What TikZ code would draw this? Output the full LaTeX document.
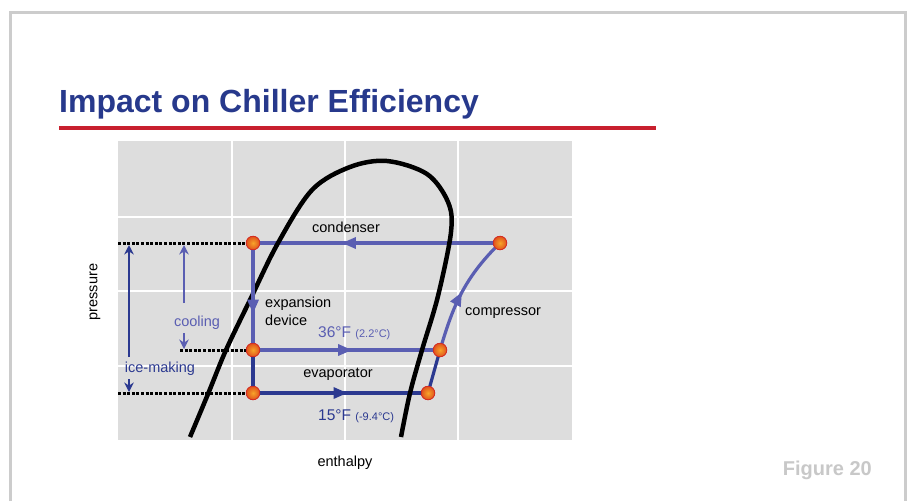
\documentclass[tikz,border=0pt]{standalone}
\usepackage{fontspec}
\setmainfont{Liberation Sans}
\usetikzlibrary{arrows.meta,decorations.markings}
\definecolor{lblue}{HTML}{5A5EB2}
\definecolor{dblue}{HTML}{2B3990}
\definecolor{tblue}{HTML}{27398C}
\definecolor{tred}{HTML}{C8202E}
\definecolor{panelgray}{HTML}{DDDDDD}
\definecolor{frmgray}{HTML}{CCCCCC}
\definecolor{figgray}{HTML}{C8C8C8}
\definecolor{dotin}{HTML}{F7A52A}
\definecolor{dotout}{HTML}{E0521C}
\definecolor{dotrim}{HTML}{D42A22}
\tikzset{
  ball/.style={circle, minimum size=13.5pt, inner sep=0pt, draw=dotrim, line width=0.7pt,
    inner color=dotin, outer color=dotout},
  lbl/.style={inner sep=0pt, font=\fontsize{14.5}{17}\selectfont},
  cyc/.style={line width=3.2pt},
  midarrow/.style={postaction={decorate,decoration={markings,
     mark=at position #1 with {\arrow{Triangle[length=14pt,width=11pt]}}}}},
  dotline/.style={black, line width=3pt, dash pattern=on 3pt off 1.6pt},
  sidearrow/.style={line width=2.3pt, -{Stealth[length=9.5pt,width=9.5pt]}},
}
\begin{document}
\begin{tikzpicture}[x=1pt,y=-1pt]
\useasboundingbox[fill=white] (0,0) rectangle (909,501);
% frame
\draw[frmgray, line width=3pt] (10,501) -- (10,12) -- (905,12) -- (905,501);
% title
\node[anchor=base west, inner sep=0pt, text=tblue, font=\fontsize{32}{38}\selectfont\bfseries] (title) at (59,112) {Impact on Chiller Efficiency};
\draw[tred, line width=3.5pt] (59,128) -- (656,128);
% panel and grid
\fill[panelgray] (118,141) rectangle (572,440);
\foreach \x in {232,345,458} \draw[white, line width=1.2pt] (\x,141) -- (\x,440);
\foreach \y in {217,291,366} \draw[white, line width=1.2pt] (118,\y) -- (572,\y);
% state points
\node[ball] (A) at (253,243) {};
\node[ball] (B) at (500,243) {};
\node[ball] (C) at (253,350) {};
\node[ball] (D) at (440,350) {};
\node[ball] (E) at (253,393) {};
\node[ball] (F) at (428,393) {};
% dotted pressure levels
\coordinate (Ad) at (118,243);
\coordinate (Cd) at (180,350);
\coordinate (Ed) at (118,393);
\draw[dotline] (Ad) -- (A.center);
\draw[dotline] (Cd) -- (C.center);
\draw[dotline] (Ed) -- (E.center);
% cycle lines
\draw[cyc, lblue, midarrow=0.64] (B.center) -- (A.center);
\draw[cyc, lblue, midarrow=0.53] (C.center) -- (D.center);
\draw[cyc, lblue, midarrow=0.5] (D.center) .. controls (452,310) and (462,280) .. (B.center);
\draw[cyc, dblue] (C.center) -- (E.center);
\draw[cyc, dblue, midarrow=0.54] (E.center) -- (F.center);
\draw[cyc, dblue] (F.center) -- (D.center);
% saturation dome
\draw[black, line width=4.5pt] plot[smooth, tension=0.55] coordinates {
  (190,437) (208,394) (226,350) (250,300) (278,243) (312,190) (350,167) (387,161)
  (427,174) (448,202) (451,232) (438,296) (422,350) (410,393) (401,437)};
% expansion line drawn over the dome
\draw[cyc, lblue, midarrow=0.66] (A.center) -- (C.center);
% redraw balls on top
\foreach \n in {A,B,C,D,E,F} \node[ball] at (\n) {};
% side arrows
\coordinate (ice1) at (129,357);
\coordinate (ice2) at (129,245);
\coordinate (ice3) at (129,379);
\coordinate (ice4) at (129,392);
\coordinate (cool1) at (184,303);
\coordinate (cool2) at (184,245);
\coordinate (cool3) at (184,333);
\coordinate (cool4) at (184,349);
\draw[sidearrow, dblue] (ice1) -- (ice2);
\draw[sidearrow, dblue] (ice3) -- (ice4);
\draw[sidearrow, lblue] (cool1) -- (cool2);
\draw[sidearrow, lblue] (cool3) -- (cool4);
\node[lbl, text=dblue, anchor=base] (icelbl) at (160,372) {ice-making};
\node[lbl, text=lblue, anchor=base] (coollbl) at (197,326) {cooling};
% labels
\node[lbl, anchor=base] (cond) at (346,232) {condenser};
\node[lbl, anchor=base west] (exp1) at (265,307) {expansion};
\node[lbl, anchor=base west] (exp2) at (265,325) {device};
\node[lbl, anchor=base west, text=lblue] (t36) at (318,337) {\fontsize{15.5}{18}\selectfont 36°F \fontsize{11}{13}\selectfont(2.2°C)};
\node[lbl, anchor=base] (evap) at (338,377) {evaporator};
\node[lbl, anchor=base west, text=dblue] (t15) at (318,420) {\fontsize{15.5}{18}\selectfont 15°F \fontsize{11}{13}\selectfont(-9.4°C)};
\node[lbl, anchor=base west] (comp) at (465,315) {compressor};
\node[lbl, rotate=90] (press) at (95,292) {pressure};
\node[lbl, anchor=base] (enth) at (345,466) {enthalpy};
\node[anchor=base east, inner sep=0pt, text=figgray, font=\fontsize{20}{24}\selectfont\bfseries] (fig) at (872,475) {Figure 20};
\end{tikzpicture}
\end{document}
